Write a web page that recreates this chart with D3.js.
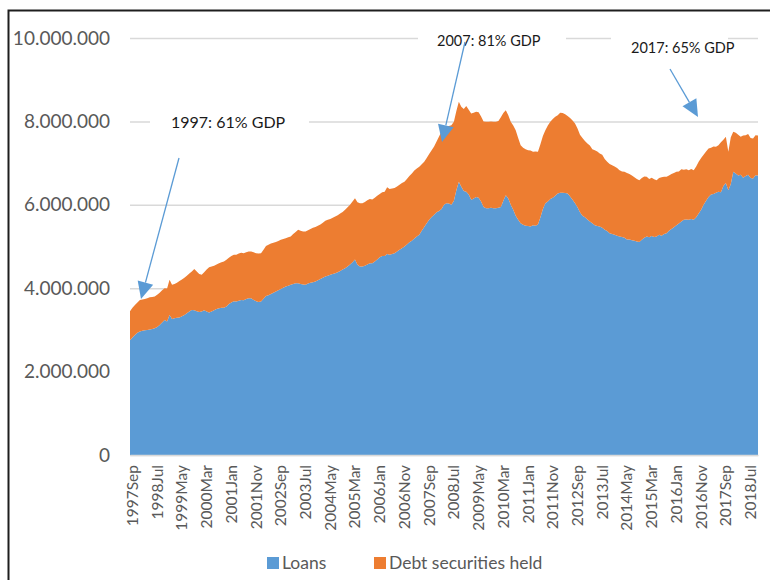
<!DOCTYPE html>
<meta charset="utf-8">
<style>
body { margin: 0; background: #fff; }
svg { font-family: Lato, sans-serif; }
.grid line { stroke: #d9d9d9; stroke-width: 1.5px; }
.tick text { fill: #595959; }
.note { fill: #1a1a1a; }
</style>
<svg width="770" height="580"></svg>
<script src="https://cdn.jsdelivr.net/npm/d3@7"></script>
<script>

// monthly values, thousands, Sep 1997 .. Nov 2018
var loans = [
  2750, 2820, 2880, 2930,
  2960, 2980, 2990, 3000, 3010, 3020, 3040, 3070, 3120, 3180, 3240, 3200,
  3360, 3260, 3280, 3290, 3300, 3330, 3360, 3400, 3440, 3480, 3470, 3450,
  3430, 3440, 3470, 3440, 3420, 3440, 3470, 3500, 3520, 3530, 3530, 3560,
  3620, 3660, 3690, 3680, 3700, 3720, 3710, 3740, 3760, 3760, 3720, 3690,
  3670, 3680, 3750, 3810, 3830, 3860, 3890, 3920, 3950, 3980, 4010, 4040,
  4060, 4080, 4100, 4120, 4120, 4100, 4090, 4080, 4110, 4130, 4140, 4160,
  4190, 4220, 4250, 4280, 4300, 4320, 4340, 4360, 4380, 4410, 4450, 4480,
  4520, 4570, 4620, 4690, 4560, 4520, 4520, 4540, 4570, 4600, 4600, 4640,
  4690, 4740, 4770, 4770, 4820, 4800, 4820, 4840, 4880, 4920, 4960, 5000,
  5050, 5100, 5140, 5190, 5240, 5280, 5380, 5470, 5560, 5640, 5710, 5760,
  5820, 5850, 5900, 6000, 6040, 6030, 6000, 6100, 6350, 6550, 6430, 6330,
  6310, 6250, 6120, 6150, 6190, 6170, 6080, 5950, 5920, 5920, 5930, 5920,
  5920, 5930, 5950, 6100, 6230, 6150, 6000, 5880, 5740, 5640, 5560, 5520,
  5500, 5490, 5480, 5510, 5500, 5530, 5700, 5900, 6040, 6080, 6140, 6170,
  6220, 6270, 6290, 6290, 6280, 6270, 6200, 6120, 6040, 5940, 5820, 5740,
  5700, 5650, 5600, 5560, 5510, 5490, 5480, 5450, 5400, 5370, 5320, 5300,
  5280, 5260, 5240, 5230, 5210, 5170, 5170, 5150, 5140, 5120, 5110, 5160,
  5210, 5240, 5220, 5250, 5230, 5240, 5280, 5260, 5300, 5320, 5380, 5420,
  5460, 5510, 5550, 5600, 5640, 5650, 5640, 5660, 5640, 5700, 5790, 5880,
  6000, 6100, 6190, 6250, 6260, 6290, 6310, 6300, 6450, 6520, 6350, 6500,
  6790, 6750, 6700, 6720, 6650, 6690, 6720, 6640, 6630, 6710, 6700
];

var securities = [
  700, 710, 720, 730,
  760, 750, 750, 760, 770, 770, 760, 770, 770, 770, 760, 790,
  840, 820, 820, 840, 870, 880, 890, 900, 910, 920, 990, 950,
  910, 880, 910, 1010, 1080, 1080, 1070, 1070, 1080, 1090, 1110, 1120,
  1110, 1110, 1110, 1120, 1130, 1130, 1130, 1120, 1120, 1120, 1140, 1150,
  1160, 1160, 1170, 1200, 1210, 1210, 1200, 1190, 1180, 1180, 1170, 1160,
  1160, 1160, 1200, 1230, 1280, 1280, 1270, 1280, 1280, 1290, 1310, 1310,
  1310, 1310, 1320, 1340, 1340, 1340, 1350, 1360, 1370, 1380, 1380, 1400,
  1420, 1430, 1460, 1470, 1500, 1520, 1520, 1530, 1540, 1540, 1530, 1530,
  1530, 1520, 1530, 1540, 1600, 1580, 1570, 1560, 1560, 1560, 1560, 1550,
  1570, 1590, 1610, 1630, 1630, 1630, 1590, 1560, 1560, 1580, 1600, 1640,
  1700, 1790, 1860, 1870, 1840, 1860, 1910, 1890, 1900, 1920, 1920, 1970,
  2060, 2030, 2070, 2060, 2040, 2050, 2040, 2050, 2070, 2070, 2070, 2070,
  2070, 2080, 2150, 2100, 2040, 2000, 1990, 2020, 2050, 1960, 1870, 1850,
  1830, 1820, 1820, 1760, 1780, 1740, 1750, 1750, 1750, 1820, 1850, 1890,
  1890, 1880, 1920, 1910, 1890, 1860, 1880, 1900, 1910, 1890, 1860, 1860,
  1830, 1820, 1820, 1770, 1800, 1790, 1750, 1750, 1700, 1660, 1660, 1650,
  1640, 1620, 1590, 1570, 1580, 1590, 1570, 1550, 1520, 1500, 1480, 1480,
  1470, 1430, 1400, 1400, 1380, 1350, 1360, 1400, 1370, 1350, 1320, 1320,
  1300, 1280, 1250, 1250, 1200, 1200, 1190, 1200, 1190, 1220, 1240, 1240,
  1200, 1180, 1160, 1120, 1140, 1100, 1120, 1200, 1110, 1110, 920, 1120,
  960, 980, 980, 910, 1010, 980, 980, 960, 960, 960, 960
];

var tickLabels = ["1997Sep", "1998Jul", "1999May", "2000Mar", "2001Jan", "2001Nov",
  "2002Sep", "2003Jul", "2004May", "2005Mar", "2006Jan", "2006Nov", "2007Sep",
  "2008Jul", "2009May", "2010Mar", "2011Jan", "2011Nov", "2012Sep", "2013Jul",
  "2014May", "2015Mar", "2016Jan", "2016Nov", "2017Sep", "2018Jul"];

var yTicks = [0, 2000000, 4000000, 6000000, 8000000, 10000000];

var seriesNames = ["Loans", "Debt securities held"];

var notes = ["1997: 61% GDP", "2007: 81% GDP", "2017: 65% GDP"];

var monthNames = ["Jan","Feb","Mar","Apr","May","Jun","Jul","Aug","Sep","Oct","Nov","Dec"];
var months = loans.map(function(d, i) {
  var m = 8 + i;
  return (1997 + Math.floor(m / 12)) + monthNames[m % 12];
});

var data = months.map(function(m, i) {
  return { month: m, loans: loans[i] * 1000, securities: securities[i] * 1000 };
});

var svg = d3.select("svg");

// frame of the original picture
svg.append("rect")
    .attr("x", 8.5).attr("y", 10.5)
    .attr("width", 800).attr("height", 620)
    .attr("fill", "none")
    .attr("stroke", "#1e1e1e")
    .attr("stroke-width", 2);

var x = d3.scalePoint()
    .domain(months)
    .range([130, 758]);

var y = d3.scaleLinear()
    .domain([0, 10000000])
    .range([455, 38]);

var fmt = d3.formatLocale({ decimal: ",", thousands: ".", grouping: [3], currency: ["", ""] }).format(",");

var gy = svg.append("g")
    .attr("class", "grid")
    .attr("transform", "translate(130,0)")
    .call(d3.axisLeft(y).tickValues(yTicks).tickSize(-628).tickPadding(20).tickFormat(fmt));
gy.select(".domain").remove();
gy.selectAll("text").attr("font-size", 19).attr("font-family", "Lato, sans-serif");

var stack = d3.stack().keys(["loans", "securities"]);
var layers = stack(data);

var area = d3.area()
    .x(function(d) { return x(d.data.month); })
    .y0(function(d) { return y(d[0]); })
    .y1(function(d) { return y(d[1]); });

var colors = ["#5b9bd5", "#ed7d31"];

svg.append("g").selectAll("path")
    .data(layers)
  .enter().append("path")
    .attr("d", area)
    .attr("fill", function(d, i) { return colors[i]; });

var gx = svg.append("g")
    .attr("transform", "translate(0,455)")
    .call(d3.axisBottom(x).tickValues(tickLabels).tickSize(0));
gx.select(".domain").attr("stroke", "#d9d9d9").attr("stroke-width", 1.5);
gx.selectAll("text")
    .attr("font-size", 15.5)
    .attr("font-family", "Lato, sans-serif")
    .attr("text-anchor", "end")
    .attr("transform", "rotate(-90)")
    .attr("x", -10)
    .attr("y", 2)
    .attr("dy", "0.35em");

// annotations with white boxes over the gridlines
var boxes = [
  { x: 150, y: 108, w: 159, h: 26, size: 16, tx: 171, ty: 128 },
  { x: 418, y: 26, w: 148, h: 24, size: 14.5, tx: 437, ty: 46 },
  { x: 611, y: 30, w: 117, h: 26, size: 14.5, tx: 631, ty: 53 }
];
notes.forEach(function(n, i) {
  var b = boxes[i];
  svg.append("rect").attr("x", b.x).attr("y", b.y).attr("width", b.w).attr("height", b.h).attr("fill", "#fff");
  svg.append("text").attr("class", "note")
      .attr("x", b.tx).attr("y", b.ty)
      .attr("font-size", b.size)
      .text(n);
});

// arrows
var arrows = [
  { from: [179, 158], to: [141, 299] },
  { from: [465, 42], to: [442, 142] },
  { from: [670, 69], to: [698, 117] }
];
arrows.forEach(function(a) {
  var dx = a.to[0] - a.from[0], dy = a.to[1] - a.from[1];
  var len = Math.sqrt(dx * dx + dy * dy), ux = dx / len, uy = dy / len;
  var hl = 17, hw = 8;
  var bx = a.to[0] - ux * hl, by = a.to[1] - uy * hl;
  svg.append("line")
      .attr("x1", a.from[0]).attr("y1", a.from[1])
      .attr("x2", bx).attr("y2", by)
      .attr("stroke", "#5b9bd5").attr("stroke-width", 1.3);
  svg.append("path")
      .attr("d", "M" + a.to + "L" + [bx - uy * hw, by + ux * hw] + "L" + [bx + uy * hw, by - ux * hw] + "Z")
      .attr("fill", "#5b9bd5");
});

// legend
var legend = svg.append("g").attr("font-size", 17.5).attr("fill", "#595959");
var legendX = [267, 374];
seriesNames.forEach(function(name, i) {
  legend.append("rect").attr("x", legendX[i]).attr("y", 557).attr("width", 12).attr("height", 12).attr("fill", colors[i]);
  legend.append("text").attr("x", legendX[i] + 15).attr("y", 569).text(name);
});

</script>
